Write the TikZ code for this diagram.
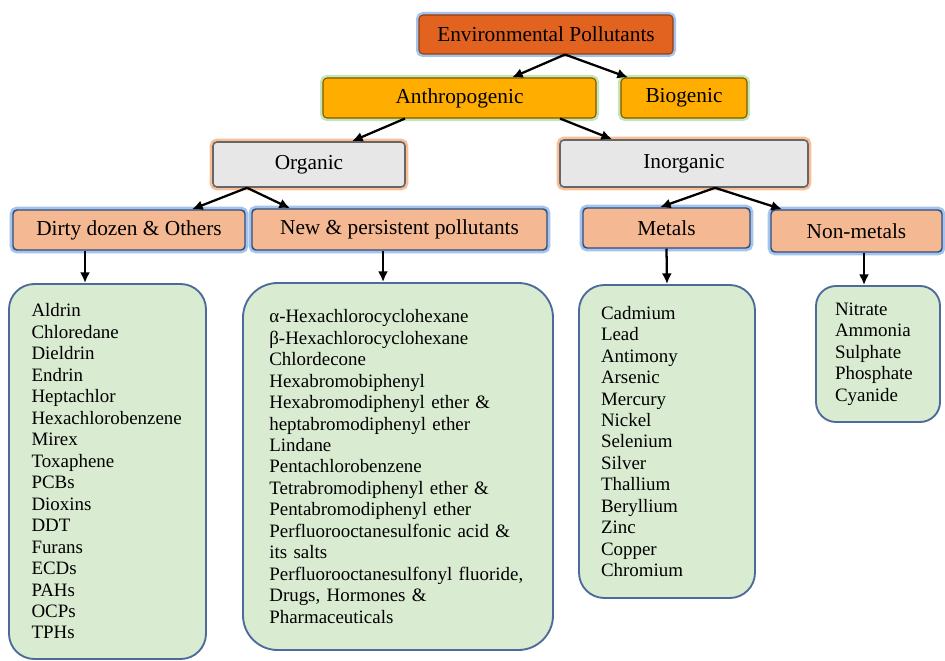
\documentclass[tikz,border=0pt]{standalone}
\usepackage{fontspec}
\setmainfont{Liberation Serif}
\usetikzlibrary{calc,arrows.meta}
\definecolor{rootfill}{HTML}{E2621F}
\definecolor{srcfill}{HTML}{FFAE00}
\definecolor{kindfill}{HTML}{E7E7E7}
\definecolor{groupfill}{HTML}{F4B892}
\definecolor{groupline}{HTML}{2F4E7E}
\definecolor{listfill}{HTML}{D9EBD0}
\definecolor{listline}{HTML}{4C6A9A}
\definecolor{blueglow}{HTML}{A4C4EE}
\definecolor{greenglow}{HTML}{C6E5B3}
\definecolor{orangeglow}{HTML}{F8BE98}

\begin{document}
\begin{tikzpicture}[
    x=0.75pt, y=-0.75pt,
    wh/.style 2 args={minimum width=#1*0.75pt, minimum height=#2*0.75pt},
    head/.style={rounded corners=3pt, inner sep=0pt, font=\fontsize{16}{19}\selectfont},
    rootbox/.style={head, fill=rootfill, draw=rootfill!65!black, line width=0.8pt,
        preaction={draw=blueglow, line width=4.5pt}},
    srcbox/.style={head, fill=srcfill, draw=srcfill!50!black, line width=0.8pt,
        preaction={draw=greenglow, line width=4.5pt}},
    kindbox/.style={head, fill=kindfill, draw=black!60, line width=1.2pt,
        preaction={draw=orangeglow, line width=5pt}},
    groupbox/.style={head, fill=groupfill, draw=groupline, line width=1.1pt,
        preaction={draw=blueglow, line width=5pt}},
    listbox/.style={fill=listfill, draw=listline, line width=1.4pt, align=left, inner sep=0pt,
        font=\fontsize{14.2}{16.1}\selectfont},
    arr/.style={-{Latex[length=8pt,width=7.5pt]}, line width=1.7pt}
    ]

    \useasboundingbox (0,0) rectangle (945,660);

    \node[rootbox, wh={254}{39}] (EP) at (546,34.5) {Environmental Pollutants};
    \node[srcbox, wh={273}{40}] (AN) at (459.5,98) {Anthropogenic};
    \node[srcbox, wh={126}{40}] (BI) at (684,98) {Biogenic};
    \node[kindbox, wh={192}{45}] (OR) at (309,164.5) {Organic};
    \node[kindbox, wh={248}{47}] (IN) at (684,163.5) {Inorganic};
    \node[groupbox, wh={232}{40}] (DD) at (129,230) {Dirty dozen \& Others};
    \node[groupbox, wh={295}{41}] (NP) at (399.5,229.5) {New \& persistent pollutants};
    \node[groupbox, wh={167}{40}] (ME) at (666.5,228) {Metals};
    \node[groupbox, wh={171}{42}] (NM) at (856.5,231) {Non-metals};

    \node[listbox, wh={197}{375}, rounded corners=19pt, text width=114pt] (DDL) at (107.5,471.5)
        {Aldrin\\Chloredane\\Dieldrin\\Endrin\\Heptachlor\\Hexachlorobenzene\\Mirex\\Toxaphene\\
         PCBs\\Dioxins\\DDT\\Furans\\ECDs\\PAHs\\OCPs\\TPHs};
    \node[listbox, wh={310}{367}, rounded corners=26pt, text width=193pt] (NPL) at (398,466.5)
        {α-Hexachlorocyclohexane\\β-Hexachlorocyclohexane\\Chlordecone\\Hexabromobiphenyl\\
         Hexabromodiphenyl ether \&\\heptabromodiphenyl ether\\Lindane\\Pentachlorobenzene\\
         Tetrabromodiphenyl ether \&\\Pentabromodiphenyl ether\\Perfluorooctanesulfonic acid \&\\
         its salts\\Perfluorooctanesulfonyl fluoride,\\Drugs, Hormones \&\\Pharmaceuticals};
    \node[listbox, wh={176}{313}, rounded corners=19pt, text width=99pt] (MEL) at (667,441.5)
        {Cadmium\\Lead\\Antimony\\Arsenic\\Mercury\\Nickel\\Selenium\\Silver\\Thallium\\
         Beryllium\\Zinc\\Copper\\Chromium};
    \node[listbox, wh={124}{136}, rounded corners=15pt, text width=64.5pt] (NML) at (878,354)
        {Nitrate\\Ammonia\\Sulphate\\Phosphate\\Cyanide};

    \draw[arr] ($(EP.south)+(19,0)$) -- ($(AN.north)+(52.5,0)$);
    \draw[arr] ($(EP.south)+(19,0)$) -- ($(BI.north)+(-56,0)$);
    \draw[arr] ($(AN.south)+(-54.5,0)$) -- ($(OR.north)+(43,0)$);
    \draw[arr] ($(AN.south)+(100.5,0)$) -- ($(IN.north)+(-72,0)$);
    \draw[arr] ($(OR.south)+(-62,0)$) -- ($(DD.north)+(63,0)$);
    \draw[arr] ($(OR.south)+(-62,0)$) -- ($(NP.north)+(-109.5,0)$);
    \draw[arr] ($(IN.south)+(31,0)$) -- ($(ME.north)+(-6.5,0)$);
    \draw[arr] ($(IN.south)+(31,0)$) -- ($(NM.north)+(-74.5,0)$);
    \draw[arr] ($(DD.south)+(-44,0)$) -- ($(DDL.north)+(-22.5,0)$);
    \draw[arr] ($(NP.south)+(-16.5,0)$) -- ($(NPL.north)+(-15,0)$);
    \draw[arr] (ME.south) -- (MEL.north);
    \draw[arr] ($(NM.south)+(7.5,0)$) -- ($(NML.north)+(-14,0)$);

\end{tikzpicture}
\end{document}
